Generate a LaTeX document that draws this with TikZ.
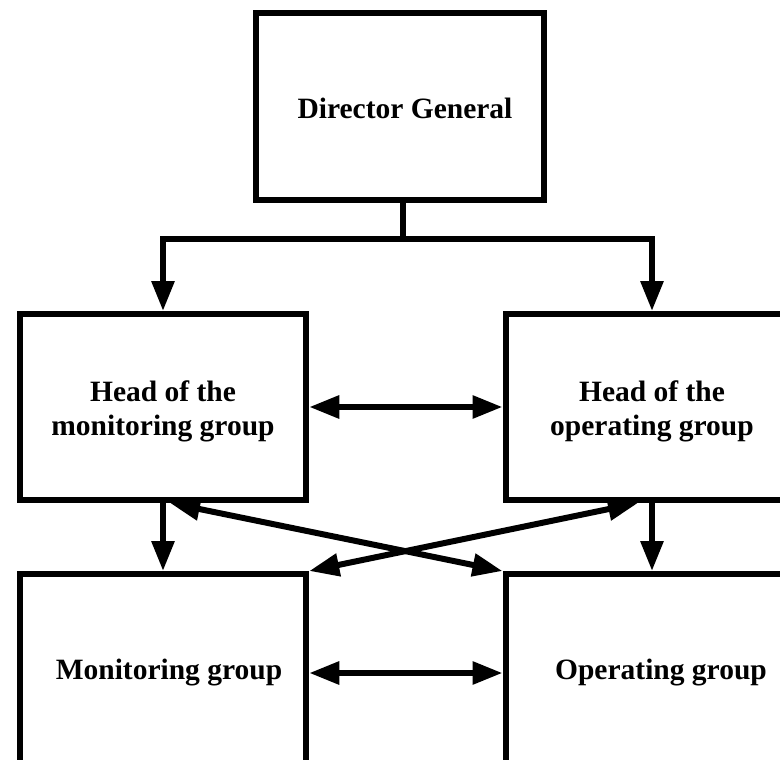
\documentclass[tikz,border=0pt]{standalone}
\usepackage{fontspec}
\setmainfont{Liberation Serif}
\usetikzlibrary{arrows.meta,calc}
\begin{document}
\begin{tikzpicture}[x=1pt,y=-1pt,
  box/.style={draw=black,line width=6pt,fill=white,align=center,
    font=\bfseries\fontsize{29.5}{34}\selectfont,inner sep=0pt},
  arr/.style={line width=6pt,-{Triangle[length=30pt,width=22pt]}},
  darr/.style={line width=6pt,{Triangle[length=30pt,width=22pt]}-{Triangle[length=30pt,width=22pt]}},
  link/.style={line width=6pt}]
\useasboundingbox (0,0) rectangle (780,760);
\clip (0,0) rectangle (780,760);
\fill[white] (0,0) rectangle (780,760);
\node[box,minimum width=288.5pt,minimum height=187pt] (DG) at (400,106.5) {\hspace*{10pt}\rule{0pt}{25pt}Director General};
\node[box,minimum width=286.5pt,minimum height=186pt] (HM) at (163,407) {\rule{0pt}{30pt}Head of the\\monitoring group};
\node[box,minimum width=293pt,minimum height=186pt] (HO) at (652,407) {\rule{0pt}{30pt}Head of the\\operating group};
\node[box,minimum width=286.5pt,minimum height=198pt] (MG) at (163,673) {\hspace*{12pt}Monitoring group};
\node[box,minimum width=311pt,minimum height=198pt] (OG) at (661,673) {Operating group};
\coordinate (J) at (403,239);
\draw[link] (DG.south -| J) -- (J);
\draw[arr] (J) -| (HM.north);
\draw[arr] (J) -| (HO.north);
\draw[darr] (HM.east) -- (HO.west);
\draw[darr] (MG.east) -- (OG.west);
\draw[arr] (HM.south) -- (HM.south |- MG.north);
\draw[arr] (HO.south) -- (HO.south |- OG.north);
\draw[darr] ([xshift=7pt]HM.south) -- (OG.north west);
\draw[darr] (MG.north east) -- ([xshift=-14pt]HO.south);
\end{tikzpicture}
\end{document}
